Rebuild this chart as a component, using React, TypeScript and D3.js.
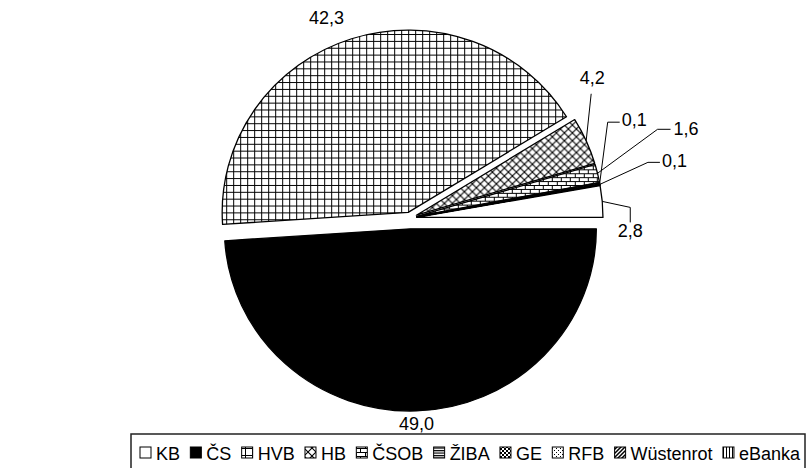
import { useMemo } from 'react';
import * as d3 from 'd3';

const banks = ['KB', 'ČS', 'HVB', 'HB', 'ČSOB', 'ŽIBA', 'GE', 'RFB', 'Wüstenrot', 'eBanka'];
const shares = [2.8, 49.0, 42.3, 4.2, 1.6, 0.1, 0.1, 0, 0, 0];
const patternIds = ['kb', 'cs', 'hvb', 'hb', 'csob', 'ziba', 'ge', 'rfb', 'wust', 'ebanka'];

const WIDTH = 807;
const HEIGHT = 468;
const FONT = '"Liberation Sans", Arial, Helvetica, sans-serif';
const RADIUS = 186;
const Y_SCALE = 0.98; // the source picture is very slightly squashed vertically
const CENTER = { x: 410, y: 218 };
// explosion distance of each slice (px), as in the source chart
const EXPLODE: Record<string, number> = { KB: 7, 'ČS': 11, HVB: 6 };
const DEFAULT_EXPLODE = 7;

// label placement relative to the outer midpoint of each slice
type LabelLayout = { dx: number; dy: number; anchor: 'start' | 'middle'; leader?: [number, number][] };
const LABEL_LAYOUT: Record<string, LabelLayout> = {
  KB: { dx: 28, dy: 36, anchor: 'middle', leader: [[28, 6], [28, 21]] },
  'ČS': { dx: 0, dy: 19, anchor: 'middle' },
  HVB: { dx: -25, dy: -15, anchor: 'middle' },
  HB: { dx: 6, dy: -57, anchor: 'middle', leader: [[5, -47]] },
  'ČSOB': { dx: 76, dy: -38, anchor: 'start', leader: [[60, -44], [73, -44]] },
  'ŽIBA': { dx: 22, dy: -57, anchor: 'start', leader: [[8, -61], [20, -61]] },
  GE: { dx: 62, dy: -17, anchor: 'start', leader: [[48, -22], [60, -22]] },
};

const LEGEND = { x: 131, y: 434, right: 805, textStart: 140, textEnd: 800, baseline: 460, icon: 11, iconGap: 5 };

function measure(text: string, font: string) {
  const canvas = document.createElement('canvas');
  const ctx = canvas.getContext('2d');
  if (!ctx) return text.length * 10;
  ctx.font = font;
  return ctx.measureText(text).width;
}

function Patterns() {
  return (
    <defs>
      <pattern id="kb" width={4} height={4} patternUnits="userSpaceOnUse">
        <rect width={4} height={4} fill="#fff" />
      </pattern>
      <pattern id="cs" width={4} height={4} patternUnits="userSpaceOnUse">
        <rect width={4} height={4} fill="#000" />
      </pattern>
      <pattern id="hvb" width={7} height={7} patternUnits="userSpaceOnUse">
        <rect width={7} height={7} fill="#fff" />
        <path d="M0.5,0 V7 M0,0.5 H7" stroke="#000" strokeWidth={1.2} shapeRendering="crispEdges" />
      </pattern>
      <pattern id="hb" width={8} height={8} patternUnits="userSpaceOnUse">
        <rect width={8} height={8} fill="#fff" />
        <path d="M0,0 L8,8 M8,0 L0,8" stroke="#000" strokeWidth={1.1} />
      </pattern>
      <pattern id="csob" width={9} height={8} patternUnits="userSpaceOnUse">
        <rect width={9} height={8} fill="#fff" />
        <path d="M0,0.5 H9 M0,4.5 H9 M0.5,0 V4 M5,4 V8" stroke="#000" strokeWidth={1} shapeRendering="crispEdges" />
      </pattern>
      <pattern id="ziba" width={4} height={2.5} patternUnits="userSpaceOnUse">
        <rect width={4} height={2.5} fill="#fff" />
        <path d="M0,0.6 H4" stroke="#000" strokeWidth={1.2} />
      </pattern>
      <pattern id="ge" width={4} height={4} patternUnits="userSpaceOnUse">
        <rect width={4} height={4} fill="#fff" />
        <rect width={2} height={2} fill="#000" />
        <rect x={2} y={2} width={2} height={2} fill="#000" />
      </pattern>
      <pattern id="rfb" width={4} height={4} patternUnits="userSpaceOnUse">
        <rect width={4} height={4} fill="#fff" />
        <rect width={1} height={1} fill="#000" />
        <rect x={2} y={2} width={1} height={1} fill="#000" />
      </pattern>
      <pattern id="wust" width={4} height={4} patternUnits="userSpaceOnUse">
        <rect width={4} height={4} fill="#fff" />
        <path d="M-1,5 L5,-1 M-1,1 L1,-1 M3,5 L5,3" stroke="#000" strokeWidth={1.5} />
      </pattern>
      <pattern id="ebanka" width={3} height={3} patternUnits="userSpaceOnUse">
        <rect width={3} height={3} fill="#fff" />
        <path d="M0.5,0 V3" stroke="#000" strokeWidth={1} shapeRendering="crispEdges" />
      </pattern>
    </defs>
  );
}

export default function App() {
  const data = banks.map((name, i) => ({ name, value: shares[i], pattern: patternIds[i] }));
  const total = d3.sum(shares);
  const start = Math.PI / 2 - (2 * Math.PI * shares[0]) / total;

  const pie = d3
    .pie<(typeof data)[number]>()
    .sort(null)
    .value((d) => d.value)
    .startAngle(start)
    .endAngle(start + 2 * Math.PI);
  const arcs = pie(data);
  const arc = d3.arc<d3.PieArcDatum<(typeof data)[number]>>().innerRadius(0).outerRadius(RADIUS);

  const fmt = (v: number) => v.toFixed(1).replace('.', ',');

  const slices = arcs.map((a) => {
    const mid = (a.startAngle + a.endAngle) / 2;
    const e = EXPLODE[a.data.name] ?? DEFAULT_EXPLODE;
    const ox = CENTER.x + Math.sin(mid) * e;
    const oy = CENTER.y - Math.cos(mid) * e * Y_SCALE;
    const ax = ox + Math.sin(mid) * RADIUS;
    const ay = oy - Math.cos(mid) * RADIUS * Y_SCALE;
    return { a, ox, oy, ax, ay };
  });

  const legendFont = `18px ${FONT}`;
  const legendItems = useMemo(() => {
    const widths = banks.map((b) => measure(b, '18px "Liberation Sans", Arial, sans-serif'));
    const content = d3.sum(widths) + banks.length * (LEGEND.icon + LEGEND.iconGap);
    const gap = (LEGEND.textEnd - LEGEND.textStart - content) / (banks.length - 1);
    let x = LEGEND.textStart;
    return banks.map((b, i) => {
      const item = { name: b, pattern: patternIds[i], x, textX: x + LEGEND.icon + LEGEND.iconGap };
      x += LEGEND.icon + LEGEND.iconGap + widths[i] + gap;
      return item;
    });
  }, []);

  return (
    <svg
      width={WIDTH}
      height={HEIGHT}
      viewBox={`0 0 ${WIDTH} ${HEIGHT}`}
      style={{ position: 'absolute', left: 0, top: 0, background: '#fff' }}
      fontFamily={FONT}
    >
      <Patterns />
      <rect width={WIDTH} height={HEIGHT} fill="#fff" />

      {slices.map(({ a, ox, oy }) => (
        <path
          key={a.data.name}
          d={arc(a) ?? undefined}
          transform={`translate(${ox},${oy}) scale(1,${Y_SCALE})`}
          fill={`url(#${a.data.pattern})`}
          stroke="#000"
          strokeWidth={1.3}
          strokeLinejoin="round"
        />
      ))}

      {slices.map(({ a, ax, ay }) => {
        const layout = LABEL_LAYOUT[a.data.name];
        if (!layout || a.data.value <= 0) return null;
        const pts: [number, number][] = [[ax, ay], ...(layout.leader ?? []).map(([dx, dy]) => [ax + dx, ay + dy] as [number, number])];
        return (
          <g key={`label-${a.data.name}`}>
            {layout.leader && (
              <polyline points={pts.map((p) => p.join(',')).join(' ')} fill="none" stroke="#000" strokeWidth={1} />
            )}
            <text x={ax + layout.dx} y={ay + layout.dy} textAnchor={layout.anchor} fontSize={18} fill="#000">
              {fmt(a.data.value)}
            </text>
          </g>
        );
      })}

      <rect
        x={LEGEND.x}
        y={LEGEND.y}
        width={LEGEND.right - LEGEND.x}
        height={HEIGHT}
        fill="none"
        stroke="#222"
        strokeWidth={1.5}
      />
      {legendItems.map((item) => (
        <g key={`legend-${item.name}`}>
          <rect
            x={item.x}
            y={LEGEND.baseline - 13}
            width={LEGEND.icon}
            height={LEGEND.icon}
            fill={`url(#${item.pattern})`}
            stroke="#000"
            strokeWidth={1}
          />
          <text x={item.textX} y={LEGEND.baseline} style={{ font: legendFont }} fill="#000">
            {item.name}
          </text>
        </g>
      ))}
    </svg>
  );
}
